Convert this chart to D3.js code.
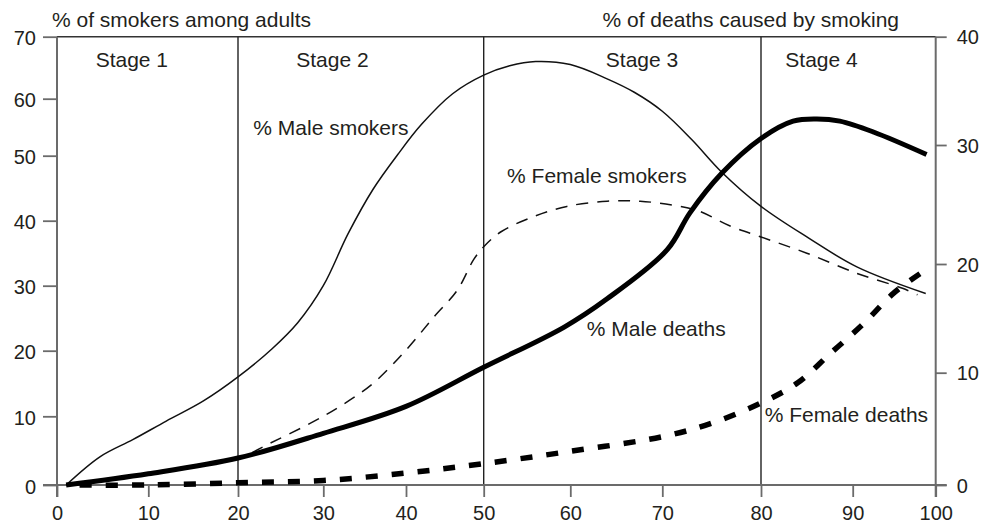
<!DOCTYPE html>
<html>
<head>
<meta charset="utf-8">
<script src="https://cdn.jsdelivr.net/npm/d3@7"></script>
<style>
  body { margin: 0; background: #fff; }
  svg { display: block; }
  text { font-family: "Liberation Sans", Arial, Helvetica, sans-serif; fill: #231f20; }
</style>
</head>
<body>
<svg id="chart" width="997" height="523"></svg>
<script>
// ---- Data ----
const xTicks = [0, 10, 20, 30, 40, 50, 60, 70, 80, 90, 100];
const leftTicks = [0, 10, 20, 30, 40, 50, 60, 70];
const rightTicks = [0, 10, 20, 30, 40];
const stageNames = ["Stage 1", "Stage 2", "Stage 3", "Stage 4"];
const stageBounds = [20, 50, 80];

const maleSmokersX = [1, 4.7, 8.3, 12, 16.1, 20, 24, 27, 30, 33, 36, 39, 42, 46, 50, 53, 56, 60, 64, 67, 70, 73, 76, 80, 85, 90.5, 98.8];
const maleSmokersY = [0, 4.1, 6.6, 9.3, 12.3, 16, 20.3, 24.3, 30, 38, 44.8, 50.2, 55.5, 60.8, 63.8, 65.3, 66, 65.5, 63.2, 61, 57.8, 52.8, 47.5, 42.2, 37.5, 32.9, 28.8];

const femaleSmokersX = [1, 10, 20, 23.8, 28.5, 32, 36, 40, 43.6, 46.6, 48.7, 50, 52, 55.7, 59.6, 64, 67.6, 71, 73.5, 77, 80, 85, 90.5, 96, 97.8];
const femaleSmokersY = [0, 1.7, 3.9, 6.1, 9, 11.5, 15, 20.1, 25.2, 29.3, 34, 36, 38.3, 40.6, 42.2, 43, 43, 42.4, 41.6, 39.1, 37.5, 35, 31.9, 29.6, 28.6];

const maleDeathsX = [1, 10, 20, 30, 40, 50, 59.3, 64, 70.5, 72.8, 76, 80, 83.5, 86.1, 88.6, 92.5, 98.9];
const maleDeathsY = [0, 1.0, 2.4, 4.6, 7.0, 10.5, 14.2, 16.8, 21.2, 24.3, 27.6, 30.6, 32.2, 32.4, 32.2, 31.2, 29.2];

const femaleDeathsX = [1, 10, 20, 30, 40, 50, 60, 70, 75, 80, 84, 87.6, 91.3, 94.9, 98.1];
const femaleDeathsY = [0, 0, 0.2, 0.4, 1.07, 1.9, 3.0, 4.3, 5.5, 7.3, 9.1, 11.8, 14.5, 17.3, 19.1];

const seriesNames = ["% Male smokers", "% Female smokers", "% Male deaths", "% Female deaths"];
const leftTitle = "% of smokers among adults";
const rightTitle = "% of deaths caused by smoking";

// ---- Layout ----
const svg = d3.select("#chart");
const axisColor = "#6b6b6b";

// The printed figure's axes are slightly uneven; piecewise-linear scales follow its tick marks.
const x = d3.scaleLinear().domain(xTicks)
  .range([57, 148.3, 238, 323.3, 406, 483.7, 570.3, 662.3, 761, 852.7, 935.7]);
const yL = d3.scaleLinear().domain(leftTicks)
  .range([485, 416.3, 350.7, 285.7, 220.7, 155.7, 98.7, 36.7]);
const yR = d3.scaleLinear().domain(rightTicks)
  .range([485, 372.7, 264, 145, 36.7]);

const x0 = x(0), x1 = x(100), yBot = yL(0), yTop = yL(70);

// Top frame line
svg.append("line").attr("x1", x0).attr("x2", x1).attr("y1", yTop).attr("y2", yTop)
  .attr("stroke", "#333").attr("stroke-width", 1.6);

// Stage separator lines
svg.selectAll("line.stage").data(stageBounds).enter().append("line")
  .attr("class", "stage")
  .attr("x1", d => x(d)).attr("x2", d => x(d))
  .attr("y1", yTop).attr("y2", yBot)
  .attr("stroke", "#222").attr("stroke-width", 1.4);

// Axes
function styleAxis(g) {
  g.select(".domain").remove();
  g.selectAll(".tick line").attr("stroke", axisColor).attr("stroke-width", 1.8);
  g.selectAll(".tick text").attr("font-size", 20).attr("fill", "#231f20")
    .attr("font-family", '"Liberation Sans", Arial, sans-serif');
}

const gx = svg.append("g").attr("transform", `translate(0,${yBot})`)
  .call(d3.axisBottom(x).tickValues(xTicks).tickSize(12).tickPadding(9).tickFormat(d3.format("d")));
styleAxis(gx);

const gl = svg.append("g").attr("transform", `translate(${x0},0)`)
  .call(d3.axisLeft(yL).tickValues(leftTicks).tickSize(14).tickPadding(7).tickFormat(d3.format("d")));
styleAxis(gl);
gl.selectAll(".tick text").attr("dy", "0.4em");

const gr = svg.append("g").attr("transform", `translate(${x1},0)`)
  .call(d3.axisRight(yR).tickValues(rightTicks).tickSize(11).tickPadding(10).tickFormat(d3.format("d")));
styleAxis(gr);
gr.selectAll(".tick text").attr("dy", "0.35em");

// Axis lines
svg.append("line").attr("x1", x0).attr("x2", x0).attr("y1", yTop).attr("y2", yBot + 12)
  .attr("stroke", axisColor).attr("stroke-width", 2);
svg.append("line").attr("x1", x1).attr("x2", x1).attr("y1", yTop).attr("y2", yBot + 12)
  .attr("stroke", axisColor).attr("stroke-width", 2);
svg.append("line").attr("x1", x0 - 14).attr("x2", x1 + 11).attr("y1", yBot).attr("y2", yBot)
  .attr("stroke", axisColor).attr("stroke-width", 2);

// Curves
const curve = d3.curveCatmullRom.alpha(0.5);
function zipPts(xs, ys) { return xs.map((v, i) => [v, ys[i]]); }
const lineL = d3.line().x(d => x(d[0])).y(d => yL(d[1])).curve(curve);
const lineR = d3.line().x(d => x(d[0])).y(d => yR(d[1])).curve(curve);

const g = svg.append("g");

const fd = g.append("path").datum(zipPts(femaleDeathsX, femaleDeathsY)).attr("d", lineR)
  .attr("fill", "none").attr("stroke", "#000").attr("stroke-width", 5.5)
  .attr("stroke-dasharray", "12,14");
// align the dash pattern so that the line ends with a full dash
const fdLen = fd.node().getTotalLength();
fd.attr("stroke-dashoffset", (((12 - fdLen) % 26) + 26) % 26);

g.append("path").datum(zipPts(femaleSmokersX, femaleSmokersY)).attr("d", lineL)
  .attr("fill", "none").attr("stroke", "#111").attr("stroke-width", 1.5)
  .attr("stroke-dasharray", "12,9");

g.append("path").datum(zipPts(maleSmokersX, maleSmokersY)).attr("d", lineL)
  .attr("fill", "none").attr("stroke", "#111").attr("stroke-width", 1.5);

g.append("path").datum(zipPts(maleDeathsX, maleDeathsY)).attr("d", lineR)
  .attr("fill", "none").attr("stroke", "#000").attr("stroke-width", 5)
  .attr("stroke-linecap", "butt");

// Titles
svg.append("text").attr("x", 52).attr("y", 27).attr("font-size", 21).text(leftTitle);
svg.append("text").attr("x", 899).attr("y", 27).attr("font-size", 21)
  .attr("text-anchor", "end").text(rightTitle);

// Stage labels (data-space anchors)
const stageLabelAt = [8.2, 31.1, 67.8, 86.6];
svg.selectAll("text.stage").data(stageNames).enter().append("text")
  .attr("class", "stage")
  .attr("x", (d, i) => x(stageLabelAt[i])).attr("y", yTop + 30)
  .attr("text-anchor", "middle").attr("font-size", 21).text(d => d);

// Series labels
const labelPos = [
  { x: 21.8, y: yL(53.6) },
  { x: 52.7, y: yL(45.8) },
  { x: 61.8, y: yR(13.4) },
  { x: 80.4, y: yR(5.6) }
];
svg.selectAll("text.series").data(seriesNames).enter().append("text")
  .attr("class", "series")
  .attr("x", (d, i) => x(labelPos[i].x)).attr("y", (d, i) => labelPos[i].y)
  .attr("font-size", 21).text(d => d);
</script>
</body>
</html>
